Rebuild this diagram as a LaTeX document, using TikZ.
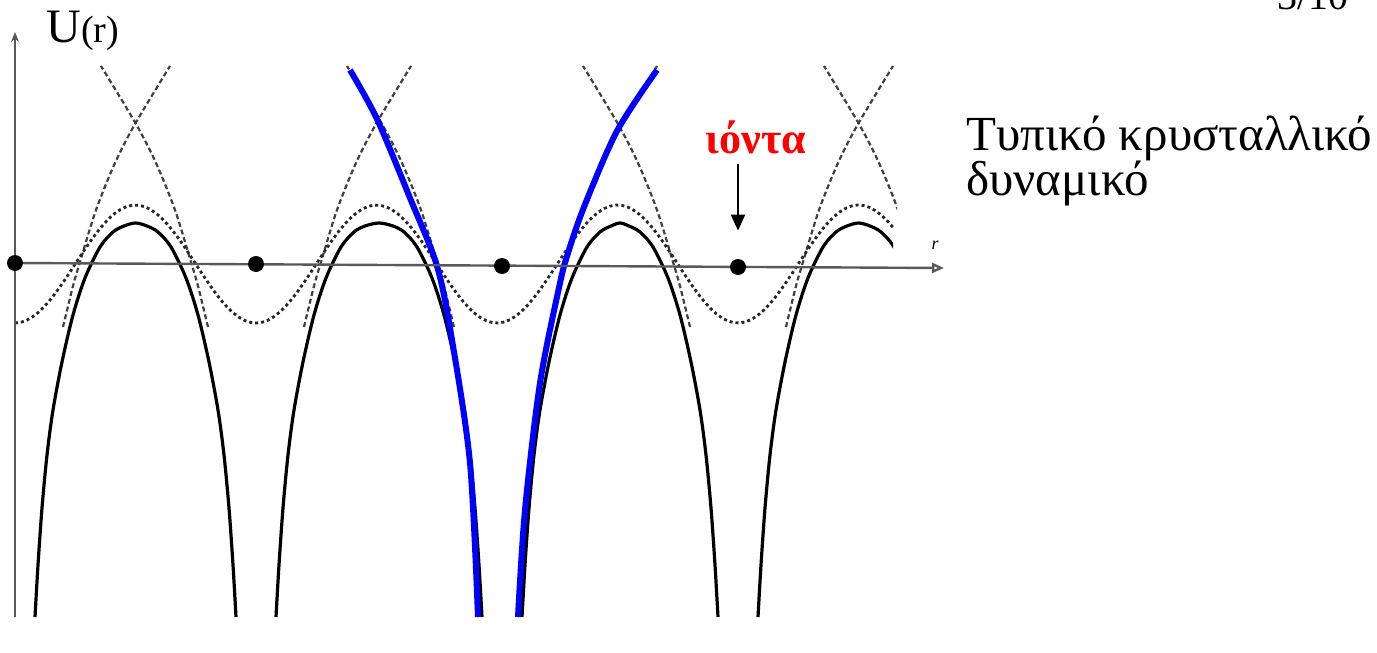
\documentclass[tikz,border=0pt]{standalone}
\usepackage{fontspec}
\setmainfont{Liberation Serif}
\usetikzlibrary{arrows.meta,positioning}

\tikzset{
  axis/.style={black!65, line width=1.2pt},
  indiv/.style={black!75, line width=1.1pt, dash pattern=on 2.5pt off 1.5pt},
  smoothpot/.style={black!85, line width=1.4pt, dash pattern=on 1.5pt off 1.5pt},
  totalpot/.style={black, line width=1.6pt},
  bluepot/.style={blue, line width=3pt},
  ion/.style={circle, fill=black, inner sep=0pt, minimum size=8pt},
}

% upper branch of a single-ion potential, drawn to the right of the ion
\newcommand{\branch}[1]{%
  \draw[#1] plot[smooth] coordinates {(48,327) (58,286) (65,262) (81,210)
    (100,163) (120,124) (155,66)};}
% total potential between two neighbouring ions (#2 = spacing)
\newcommand{\arch}[2]{%
  \draw[totalpot, shift={(#1,0)}] plot[smooth] coordinates {(20,617) (23,565)
    (27,508) (32,455) (38,410) (47,362) (58,315) (70,278) (85,247) (98,232)
    (109,226) ({#2/2},223) ({#2-109},226) ({#2-98},232) ({#2-85},247)
    ({#2-70},278) ({#2-58},315) ({#2-47},362) ({#2-38},410) ({#2-32},455)
    ({#2-27},508) ({#2-23},565) ({#2-20},617)};}

\begin{document}
\begin{tikzpicture}[x=0.5pt, y=-0.5pt]
    \fill[white] (0,0) rectangle (1377,653);
    \useasboundingbox (0,0) rectangle (1377,653);
    % Curves (cut off on the right)
    \begin{scope}
      \clip (0,0) rectangle (897,653);
      % single-ion potentials
      \branch{indiv, shift={(15,0)}}
      \foreach \xi in {256,502,738} {
        \branch{indiv, shift={(\xi,0)}}
        \branch{indiv, shift={(\xi,0)}, xscale=-1}
      }
      \branch{indiv, shift={(979,0)}, xscale=-1}
      % smoothed potential
      \draw[smoothpot] plot[domain=15:893, samples=150]
        (\x, {264+59*cos(1.49378*(\x-15))});
      % total potential
      \arch{15}{241}
      \arch{256}{246}
      \arch{502}{236}
      \begin{scope}
        \clip (0,0) rectangle (893,653);
        \arch{738}{241}
      \end{scope}
      % highlighted single-ion potential
      \draw[bluepot] plot[smooth] coordinates {(350,70) (377,119) (410,198)
        (437,266) (452,340) (470,463) (478,617)};
      \draw[bluepot] plot[smooth] coordinates {(518,617) (525,510) (540,383)
        (560,283) (568,253) (584,207) (617,131) (657,70)};
    \end{scope}
    % Axes
    \draw[axis, -{Stealth[length=5pt, width=4pt]}] (15,617) -- (15,32);
    \draw[axis, -{Triangle[open, length=6pt, width=5pt]}] (15,263) -- (944,268);
    % Ions
    \node[ion] (ion1) at (15,263) {};
    \node[ion] (ion2) at (256,264) {};
    \node[ion] (ion3) at (502,266) {};
    \node[ion] (ion4) at (738,267) {};
    % Labels
    \node[anchor=base west, inner sep=0pt] (ulabel) at (46,42)
      {\fontsize{24}{28}\selectfont U\fontsize{19}{24}\selectfont(r)};
    \node[font=\fontsize{9}{9}\selectfont\itshape] (rlabel) at (935,245) {r};
    \node[anchor=base, text=red, font=\fontsize{22}{26}\selectfont\bfseries]
      (ionlabel) at (756,153) {ιόντα};
    \draw[-{Triangle[length=8pt, width=7pt]}, line width=1.2pt,
      shorten <=2pt, shorten >=14pt] (ion4 |- ionlabel.south) -- (ion4);
    \node[anchor=base west, align=left, inner sep=0pt,
      font=\fontsize{24.5}{22.5}\selectfont] (title) at (966,195)
      {Τυπικό κρυσταλλικό\\δυναμικό};
    \node[anchor=base east, inner sep=0pt, font=\fontsize{20}{24}\selectfont]
      (pagenum) at (1349,10) {3/10};
\end{tikzpicture}
\end{document}
